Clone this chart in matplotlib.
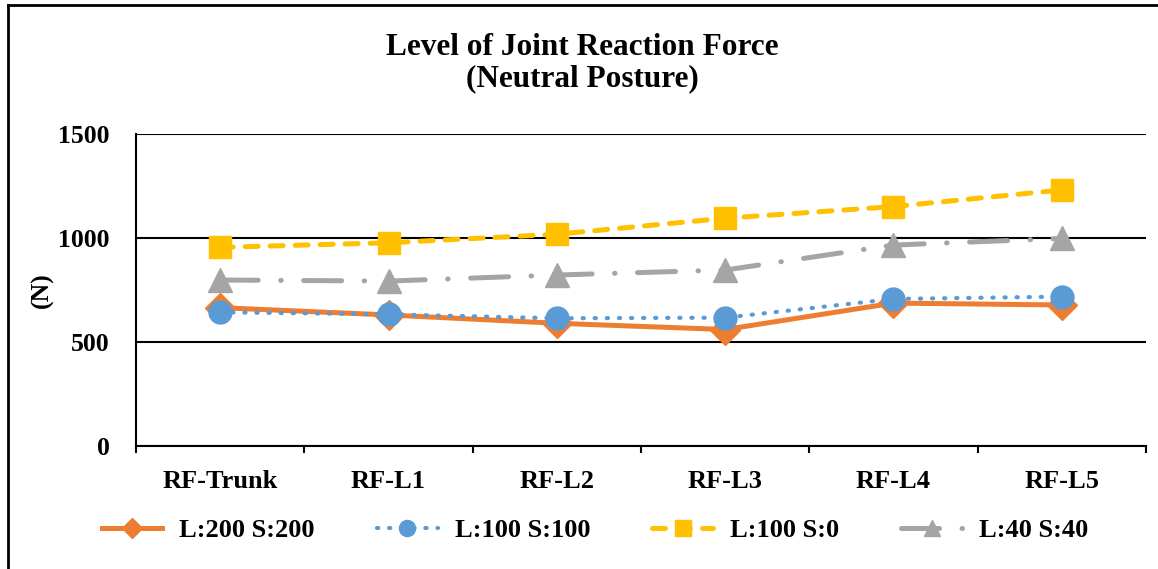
import matplotlib
matplotlib.use('Agg')
import matplotlib.pyplot as plt
from matplotlib.lines import Line2D

categories = ['RF-Trunk', 'RF-L1', 'RF-L2', 'RF-L3', 'RF-L4', 'RF-L5']
l200_s200 = [665, 630, 590, 560, 687, 678]
l100_s100 = [643, 633, 614, 617, 707, 718]
l100_s0 = [955, 977, 1018, 1095, 1151, 1231]
l40_s40 = [798, 793, 822, 846, 966, 998]
series_names = ['L:200 S:200', 'L:100 S:100', 'L:100 S:0', 'L:40 S:40']

plt.rcParams['font.family'] = ['Liberation Serif', 'DejaVu Serif']
plt.rcParams['font.weight'] = 'bold'

fig = plt.figure(figsize=(11.58, 5.69), dpi=100)
ax = fig.add_axes([136 / 1158, 1 - 446 / 569, (1146 - 136) / 1158, (446 - 134) / 569])

x = list(range(len(categories)))
ax.plot(x, l200_s200, color='#ED7D31', lw=3.6, marker='D', ms=15, label=series_names[0], zorder=3)
ax.plot(x, l100_s100, color='#5B9BD5', lw=3, ls=(0, (0.3, 2.6)), dash_capstyle='round',
        marker='o', ms=16.5, label=series_names[1], zorder=4)
ax.plot(x, l100_s0, color='#FFC000', lw=3.6, ls=(0, (2.6, 2.4)), dash_capstyle='round',
        marker='s', ms=16.5, label=series_names[2], zorder=3)
ax.plot(x, l40_s40, color='#A5A5A5', lw=3.6, ls=(0, (7.6, 4.5, 0.1, 4.5)), dash_capstyle='round',
        marker='^', ms=17, label=series_names[3], zorder=3)

ax.set_xlim(-0.5, len(categories) - 0.5)
ax.set_ylim(0, 1500)
ax.set_yticks([0, 500, 1000, 1500])
ax.set_xticks(x)
ax.set_xticklabels(categories)
ax.set_xticks([i + 0.5 for i in range(-1, len(categories))], minor=True)
ax.grid(axis='y', color='black', lw=1.5, zorder=1)
ax.set_axisbelow(True)
for s in ['top', 'right']:
    ax.spines[s].set_visible(False)
ax.spines['left'].set_linewidth(1.5)
ax.spines['bottom'].set_linewidth(1.5)
ax.tick_params(axis='x', which='major', labelsize=19, length=0, pad=17)
ax.tick_params(axis='x', which='minor', length=5, width=1.5, direction='out')
ax.tick_params(axis='y', labelsize=18.5, length=0, pad=19)
for lab in ax.get_xticklabels() + ax.get_yticklabels():
    lab.set_fontweight('bold')

fig.text(42 / 1158, 1 - 290 / 569, '(N)', rotation=90, ha='center', va='center',
         fontsize=18.5, fontweight='bold')
fig.text(582 / 1158, 1 - 63 / 569, 'Level of Joint Reaction Force\n(Neutral Posture)',
         ha='center', va='center', fontsize=22.5, fontweight='bold', linespacing=1.1)

handles, labels = ax.get_legend_handles_labels()
leg = fig.legend(handles, labels, loc='center', ncol=4, bbox_to_anchor=(595 / 1158, 1 - 530 / 569),
                 frameon=False, prop={'size': 19, 'weight': 'bold'}, handlelength=2.3,
                 columnspacing=2.35, handletextpad=0.65, markerscale=0.7)

# outer chart border
fig.add_artist(Line2D([8 / 1158, 8 / 1158], [0, 1 - 5 / 569], color='black', lw=2, transform=fig.transFigure))
fig.add_artist(Line2D([8 / 1158, 1.0], [1 - 5 / 569, 1 - 5 / 569], color='black', lw=2, transform=fig.transFigure))

fig.savefig('out.png', dpi=100)
